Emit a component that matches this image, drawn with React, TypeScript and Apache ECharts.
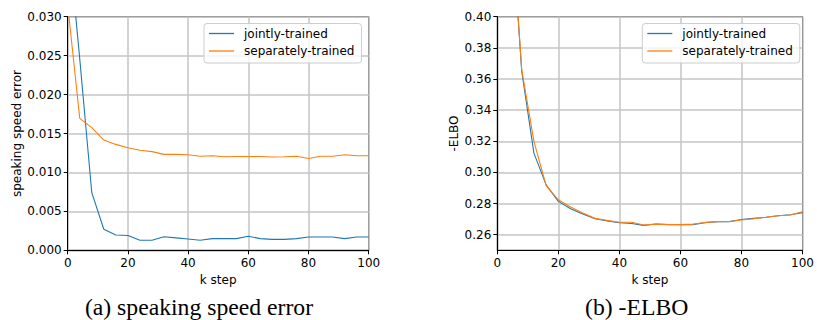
import React, { useEffect, useRef } from "react";
import * as echarts from "echarts";

const kSteps = [0, 4, 8, 12, 16, 20, 24, 28, 32, 36, 40, 44, 48, 52, 56, 60, 64, 68, 72, 76, 80, 84, 88, 92, 96, 100];

const speedJoint = [0.041, 0.0246, 0.0074, 0.0027, 0.00197, 0.0019, 0.0013, 0.0013, 0.00175, 0.0016, 0.00145, 0.0013, 0.0015, 0.0015, 0.0015, 0.0018, 0.0015, 0.0014, 0.0014, 0.0015, 0.0017, 0.0017, 0.0017, 0.0015, 0.0017, 0.0017];
const speedSeparate = [0.0315, 0.01695, 0.01575, 0.01416, 0.0136, 0.01318, 0.01284, 0.01267, 0.01232, 0.01232, 0.01228, 0.01207, 0.01215, 0.01202, 0.01205, 0.01205, 0.01205, 0.01198, 0.01202, 0.01207, 0.0118, 0.01207, 0.01207, 0.01228, 0.01215, 0.01215];

const elboJoint = [0.65, 0.481, 0.365, 0.3124, 0.292, 0.2814, 0.2767, 0.2733, 0.2703, 0.2688, 0.2677, 0.2672, 0.266, 0.2669, 0.2665, 0.2664, 0.2664, 0.2677, 0.2684, 0.2684, 0.2698, 0.2705, 0.2712, 0.2722, 0.2728, 0.2742];
const elboSeparate = [0.65, 0.481, 0.366, 0.3199, 0.2915, 0.2824, 0.2778, 0.274, 0.2705, 0.2692, 0.268, 0.268, 0.2662, 0.2668, 0.2666, 0.2665, 0.2668, 0.2679, 0.2684, 0.2685, 0.2695, 0.2703, 0.2712, 0.2722, 0.2727, 0.2748];

const elboTicks = [0.26, 0.28, 0.3, 0.32, 0.34, 0.36, 0.38, 0.4];
const seriesNames = ["jointly-trained", "separately-trained"];
const captions = ["(a) speaking speed error", "(b) -ELBO"];

const BLUE = "#1f77b4";
const ORANGE = "#ff7f0e";
const FONT = "DejaVu Sans";

export default function App() {
  const ref = useRef<HTMLDivElement>(null);
  useEffect(() => {
    if (!ref.current) return;
    const chart = echarts.init(ref.current, undefined, { renderer: "svg" });
    const pairs = (ys: number[]) => kSteps.map((k, i) => [k, ys[i]]);
    const labelStyle = { color: "#000", fontFamily: FONT, fontSize: 12 };
    const gridLine = { show: true, lineStyle: { color: "#c4c4c4", width: 1.5 } };
    const xAxisBase = (gridIndex: number) => ({
      type: "value",
      gridIndex,
      min: 0,
      max: 100,
      interval: 20,
      name: "k step",
      nameLocation: "middle",
      nameGap: 18,
      nameTextStyle: { ...labelStyle, verticalAlign: "top" },
      axisLine: { show: true, onZero: false, lineStyle: { color: "#000", width: 1 } },
      axisTick: { show: true, length: 4, lineStyle: { color: "#000" } },
      axisLabel: { ...labelStyle, margin: 7, showMaxLabel: true, showMinLabel: true },
      splitLine: gridLine,
    });
    const line = (name: string, color: string, data: number[][], idx: number) => ({
      type: "line",
      name,
      xAxisIndex: idx,
      yAxisIndex: idx,
      data,
      symbol: "none",
      clip: true,
      lineStyle: { color, width: 1.1 },
      itemStyle: { color },
    });
    const legendBase = (left: number) => ({
      orient: "vertical",
      left,
      top: 23.5,
      padding: [3, 7, 5, 5],
      itemGap: 3.5,
      itemWidth: 25,
      itemHeight: 1.3,
      icon: "rect",
      borderColor: "#cccccc",
      borderWidth: 1,
      borderRadius: 3,
      backgroundColor: "rgba(255,255,255,0.8)",
      textStyle: { ...labelStyle, lineHeight: 14, padding: [0, 0, 0, 5] },
      data: seriesNames.map((n) => ({ name: n })),
      selectedMode: false,
    });
    chart.setOption({
      animation: false,
      grid: [
        { left: 67.7, top: 16.7, width: 301, height: 233.6, show: true, borderColor: "#000", borderWidth: 1, backgroundColor: "transparent" },
        { left: 497.3, top: 16.7, width: 309.4, height: 233.6, show: true, borderColor: "#000", borderWidth: 1, backgroundColor: "transparent" },
      ],
      xAxis: [xAxisBase(0), xAxisBase(1)],
      yAxis: [
        {
          type: "value",
          gridIndex: 0,
          min: 0,
          max: 0.03,
          interval: 0.005,
          name: "speaking speed error",
          nameLocation: "middle",
          nameGap: 43,
          nameTextStyle: labelStyle,
          axisLine: { show: true, onZero: false, lineStyle: { color: "#000", width: 1 } },
          axisTick: { show: true, length: 4, lineStyle: { color: "#000" } },
          axisLabel: { ...labelStyle, margin: 6, formatter: (v: number) => v.toFixed(3) },
          splitLine: gridLine,
        },
        {
          type: "value",
          gridIndex: 1,
          min: 0.25,
          max: 0.4,
          name: "-ELBO",
          nameLocation: "middle",
          nameGap: 37,
          nameTextStyle: labelStyle,
          axisLine: { show: true, onZero: false, lineStyle: { color: "#000", width: 1 } },
          axisTick: { show: true, length: 4, lineStyle: { color: "#000" }, customValues: elboTicks },
          axisLabel: { ...labelStyle, margin: 6, customValues: elboTicks, formatter: (v: number) => v.toFixed(2) },
          splitLine: gridLine,
        },
      ],
      legend: [legendBase(204), legendBase(642.3)],
      series: [
        line(seriesNames[0], BLUE, pairs(speedJoint), 0),
        line(seriesNames[1], ORANGE, pairs(speedSeparate), 0),
        line(seriesNames[0], BLUE, pairs(elboJoint), 1),
        line(seriesNames[1], ORANGE, pairs(elboSeparate), 1),
      ],
      graphic: [
        { type: "text", x: 199, y: 307, style: { text: captions[0], fontFamily: "Liberation Serif", fontSize: 23.7, fill: "#000", align: "center", verticalAlign: "middle" } },
        { type: "text", x: 636.7, y: 307, style: { text: captions[1], fontFamily: "Liberation Serif", fontSize: 23.7, fill: "#000", align: "center", verticalAlign: "middle" } },
      ],
    });
    return () => chart.dispose();
  }, []);
  return (
    <div
      ref={ref}
      style={{ position: "fixed", left: 0, top: 0, width: 817, height: 320, background: "#fff" }}
    />
  );
}
